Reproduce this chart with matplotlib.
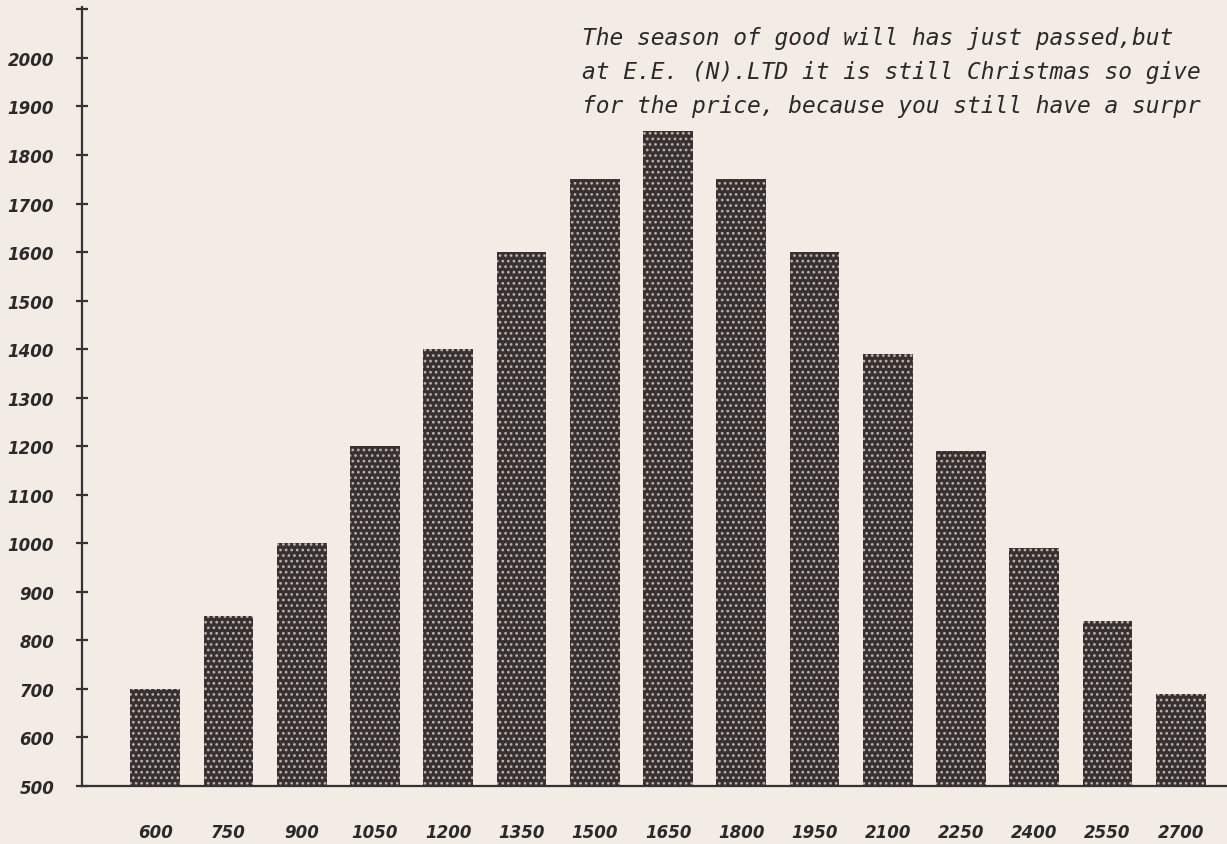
import numpy as np
import matplotlib.pyplot as plt

prices = [600, 750, 900, 1050, 1200, 1350, 1500, 1650, 1800, 1950, 2100, 2250, 2400, 2550, 2700]
counts = [700, 850, 1000, 1200, 1400, 1600, 1750, 1850, 1750, 1600, 1390, 1190, 990, 840, 690]
y_ticks = list(range(500, 2001, 100))
# the note runs off the right edge of the scan; keep only what is visible
note_lines = [
    "The season of good will has just passed,but",
    "at E.E. (N).LTD it is still Christmas so give",
    "for the price, because you still have a surpr",
]

paper = "#f2ece5"
ink = "#383131"

plt.rcParams["hatch.linewidth"] = 1.15

fig = plt.figure(figsize=(12.27, 8.45), dpi=100, facecolor=paper)
ax = fig.add_axes([82 / 1227, 58 / 845, 1 - 82 / 1227, (787 - 8) / 845])
ax.set_facecolor(paper)

x = np.arange(len(prices))
ax.bar(x, [c - 500 for c in counts], bottom=500, width=0.68,
       color=ink, edgecolor="#bdb5ae", linewidth=0, hatch="...")

ax.set_xlim(-1.0, 14.63)
ax.set_ylim(500, 2105)

for s in ["top", "right"]:
    ax.spines[s].set_visible(False)
for s in ["left", "bottom"]:
    ax.spines[s].set_color("#333333")
    ax.spines[s].set_linewidth(1.6)

ax.set_yticks(y_ticks + [2100])
ax.set_yticklabels([str(v) for v in y_ticks] + [""])
ax.tick_params(axis="y", direction="inout", length=8, width=1.6, color="#333333", pad=16)
ax.set_xticks(x)
ax.set_xticklabels([str(p) for p in prices])
ax.tick_params(axis="x", length=0, pad=27)

for lab in ax.get_xticklabels() + ax.get_yticklabels():
    lab.set_fontstyle("italic")
    lab.set_fontweight("bold")
    lab.set_fontsize(12)
    lab.set_color("#2a2a2a")

for i, line in enumerate(note_lines):
    fig.text(582 / 1227, 1 - (38 + 34 * i) / 845, line, fontsize=16.5,
             family="DejaVu Sans Mono", style="italic", color="#2a2a2a",
             ha="left", va="center")

fig.savefig("out.png", dpi=100, facecolor=paper)
